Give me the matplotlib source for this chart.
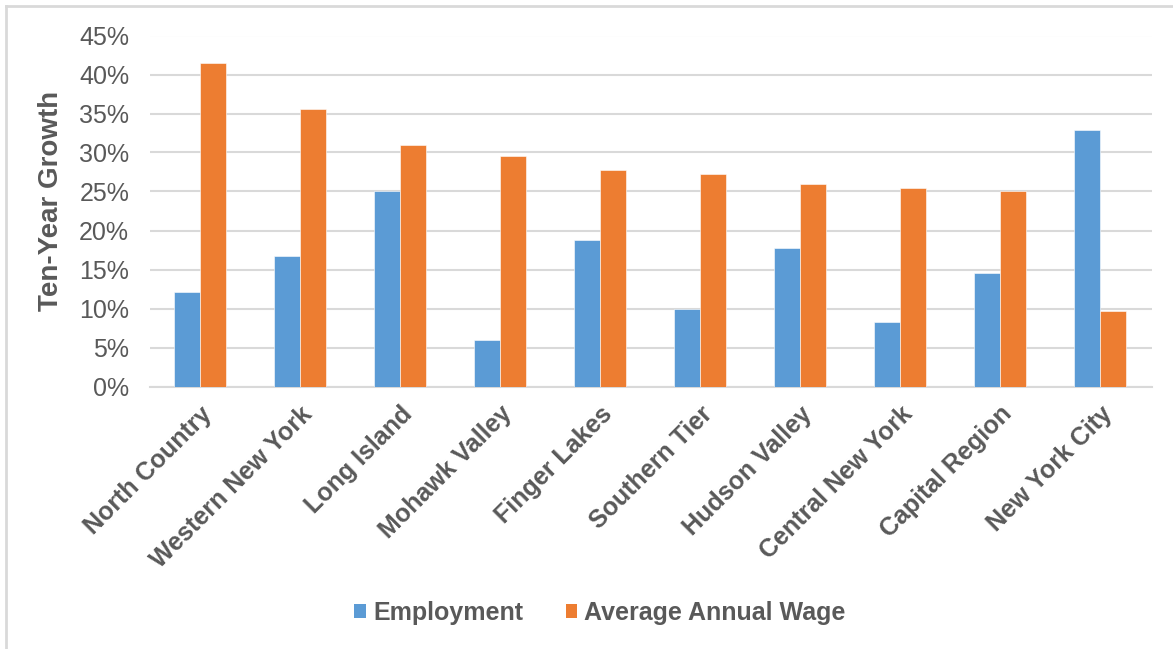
import matplotlib
matplotlib.use("Agg")
import matplotlib.pyplot as plt
import numpy as np
from matplotlib.lines import Line2D
from matplotlib.patches import Patch

plt.rcParams['font.family'] = ['Liberation Sans', 'DejaVu Sans']

regions = ["North Country", "Western New York", "Long Island", "Mohawk Valley",
           "Finger Lakes", "Southern Tier", "Hudson Valley", "Central New York",
           "Capital Region", "New York City"]
employment = [12.1, 16.7, 25.1, 6.0, 18.8, 9.9, 17.7, 8.3, 14.6, 32.9]
avg_wage = [41.5, 35.6, 31.0, 29.5, 27.8, 27.3, 26.0, 25.4, 25.0, 9.7]
yticks = [0, 5, 10, 15, 20, 25, 30, 35, 40, 45]
series_names = ["Employment", "Average Annual Wage"]

BLUE = "#5B9BD5"
ORANGE = "#ED7D31"
GRAY = "#595959"
GRID = "#D9D9D9"

W, H = 1173, 649
fig = plt.figure(figsize=(W / 100, H / 100), dpi=100)
ax = fig.add_axes([150 / W, 1 - 386.5 / H, (1152 - 150) / W, (386.5 - 35.5) / H])

x = np.arange(len(regions))
bw = 0.26
ax.bar(x - bw / 2, employment, bw, color=BLUE, edgecolor="white", linewidth=0.4, zorder=3)
ax.bar(x + bw / 2, avg_wage, bw, color=ORANGE, edgecolor="white", linewidth=0.4, zorder=3)

ax.set_xlim(-0.5, len(regions) - 0.48)
ax.set_ylim(0, 45)
ax.set_yticks(yticks)
ax.set_yticklabels([f"{v}%" for v in yticks], fontsize=18, color=GRAY)
ax.yaxis.grid(True, color=GRID, linewidth=1.5, zorder=0)
ax.set_axisbelow(True)
for s in ["left", "right", "top"]:
    ax.spines[s].set_visible(False)
ax.spines["bottom"].set_color(GRID)
ax.spines["bottom"].set_linewidth(1.5)
ax.tick_params(axis="both", length=0)
ax.tick_params(axis="y", pad=15)

ax.set_xticks(x)
ax.set_xticklabels(regions, rotation=45, ha="right", va="top", rotation_mode="anchor",
                   fontsize=18, fontweight="bold", color=GRAY)
ax.tick_params(axis="x", pad=11)

fig.text(51 / W, 1 - 201 / H, "Ten-Year Growth", rotation=90, ha="center", va="center",
         fontsize=20, fontweight="bold", color=GRAY)

handles = [Patch(facecolor=BLUE), Patch(facecolor=ORANGE)]
fig.legend(handles, series_names, loc="center", bbox_to_anchor=(600 / W, 1 - 613 / H),
           ncol=2, frameon=False, prop={"size": 18, "weight": "bold"},
           handlelength=0.45, handleheight=0.45, handletextpad=0.3, columnspacing=1.7,
           labelcolor=GRAY)

# outer frame (left and top edges)
fig.add_artist(Line2D([6 / W, 6 / W], [0, 1 - 6 / H], color="#D9D9D9", linewidth=2,
                      transform=fig.transFigure))
fig.add_artist(Line2D([6 / W, 1], [1 - 6 / H, 1 - 6 / H], color="#D9D9D9", linewidth=2,
                      transform=fig.transFigure))

fig.savefig("out.png", dpi=100)
